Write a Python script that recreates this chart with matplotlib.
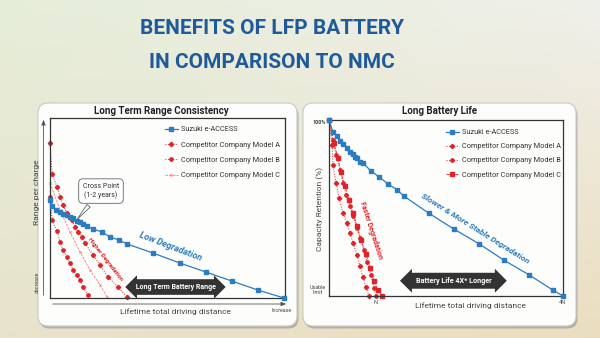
import matplotlib.pyplot as plt
import numpy as np
from matplotlib.patches import FancyBboxPatch

plt.rcParams['font.family'] = ['Roboto', 'DejaVu Sans']

# ---- left chart: range per charge vs lifetime distance (0-100 scale)
left_suzuki_x = [0, 0.9, 2.6, 4.3, 5.5, 7.2, 8.5, 9.8, 11.5, 12.8, 14.0, 15.7, 18.3, 22.1,
                 25.5, 29.4, 32.8, 43.8, 55.3, 66.4, 77.4, 88.5, 99.6]
left_suzuki_y = [54.4, 51.1, 48.9, 47.8, 46.7, 46.1, 45.0, 44.4, 42.8, 42.2, 41.1, 40.0, 38.3,
                 36.7, 33.9, 32.2, 30.0, 25.0, 19.4, 14.4, 9.4, 4.4, 0]
left_a_x = [0, 0.9, 3.0, 4.3, 5.5, 7.2, 9.4, 10.6, 11.9, 13.6, 14.9, 18.3, 21.3, 24.7, 28.9, 32.8]
left_a_y = [86.1, 68.9, 61.7, 56.1, 51.7, 47.2, 43.3, 39.4, 36.7, 33.9, 30.6, 23.9, 18.3, 11.7, 6.1, 0.6]
left_b_x = [0, 0.9, 3.0, 4.3, 5.5, 7.2, 8.5, 9.8, 11.5, 12.8, 14.0, 16.2]
left_b_y = [56.1, 43.3, 37.2, 31.1, 26.7, 22.8, 19.4, 15.6, 12.8, 10.0, 6.1, 1.7]
left_c_x = [0, 4.3, 8.5, 12.8, 17.0, 21.3, 24.3]
left_c_y = [63.9, 48.9, 36.7, 25.6, 15.6, 7.2, 0.6]

# ---- right chart: capacity retention (%) vs lifetime distance (4N = 100)
right_suzuki_x = [0, 1.7, 3.4, 4.7, 6.0, 7.7, 9.0, 10.3, 11.1, 12.0, 13.2, 14.5, 17.9, 21.4,
                  25.2, 29.1, 32.1, 42.7, 53.4, 64.1, 74.8, 85.5, 95.7, 100]
right_suzuki_y = [100, 97.9, 97.3, 96.4, 95.9, 95.2, 94.5, 94.2, 93.7, 93.5, 92.8, 92.7, 91.3,
                  90.3, 89.1, 88.1, 87.0, 84.1, 81.4, 78.9, 76.1, 73.6, 71.0, 70.0]
right_a_x = [0, 1.3, 1.7, 3.0, 4.3, 6.0, 7.7, 9.0, 10.3, 12.0, 13.2, 14.5, 15.8, 17.1]
right_a_y = [100, 95.7, 92.3, 89.3, 86.7, 84.1, 82.4, 80.7, 79.0, 77.0, 75.1, 73.2, 71.5, 70.0]
right_b_x = [0, 1.7, 3.0, 4.7, 6.0, 7.3, 9.0, 10.3, 12.0, 13.2, 15.0, 16.2, 17.9, 19.2, 20.1]
right_b_y = [100, 96.6, 94.0, 91.5, 89.3, 87.2, 85.3, 83.6, 81.6, 79.9, 77.8, 75.8, 73.6, 71.4, 70.0]
right_c_x = [0, 2.1, 3.8, 5.1, 6.8, 8.5, 10.3, 12.0, 13.7, 15.8, 17.5, 19.2, 20.9, 22.6]
right_c_y = [100, 96.1, 93.5, 91.1, 88.7, 86.4, 84.1, 81.9, 79.5, 77.2, 74.8, 72.6, 71.0, 70.0]

labels = ['Suzuki e-ACCESS', 'Competitor Company Model A',
          'Competitor Company Model B', 'Competitor Company Model C']

BLUE = '#2b7cc0'
RED = '#e0232b'
TITLE = '#1f5b9a'

fig = plt.figure(figsize=(6, 3.38), dpi=100)

# background in pixel coordinates
bg = fig.add_axes([0, 0, 1, 1])
bg.set_xlim(0, 600)
bg.set_ylim(338, 0)
bg.axis('off')
v, h = np.mgrid[0:1:120j, 0:1:200j]
tl = np.array([0.90, 0.93, 0.85])
tr = np.array([0.94, 0.94, 0.92])
bl = np.array([0.91, 0.89, 0.80])
br = np.array([0.92, 0.87, 0.75])
grad = ((1 - v)[..., None] * ((1 - h)[..., None] * tl + h[..., None] * tr)
        + v[..., None] * ((1 - h)[..., None] * bl + h[..., None] * br))
bg.imshow(grad, extent=(0, 600, 338, 0), aspect='auto', zorder=0)

for x0, w in [(38, 259), (303, 273)]:
    bg.add_patch(FancyBboxPatch((x0 + 1.5, 105.5), w, 223, boxstyle='round,pad=0,rounding_size=10',
                                fc='#8f8f8f', ec='none', alpha=0.6, zorder=1))
    bg.add_patch(FancyBboxPatch((x0, 103), w, 223, boxstyle='round,pad=0,rounding_size=10',
                                fc='#fdfdfb', ec='#c9c9c9', lw=0.8, zorder=2))

title_font = ['Liberation Sans Narrow', 'Roboto', 'DejaVu Sans']
bg.text(272, 29, 'BENEFITS OF LFP BATTERY', ha='center', va='center', color=TITLE,
        fontsize=15, fontweight='bold', family=title_font)
bg.text(272, 63, 'IN COMPARISON TO NMC', ha='center', va='center', color=TITLE,
        fontsize=15, fontweight='bold', family=title_font)

bg.text(161, 111, 'Long Term Range Consistency', ha='center', va='center', fontsize=7,
        fontweight='bold', color='#222')
bg.text(440, 111, 'Long Battery Life', ha='center', va='center', fontsize=7,
        fontweight='bold', color='#222')

# left outside labels
bg.text(37, 192, 'Range per charge', rotation=90, ha='center', va='center', fontsize=6, color='#444')
bg.text(37, 282, 'decrease', rotation=90, ha='center', va='center', fontsize=3.8, color='#444')
bg.annotate('', xy=(43.5, 117), xytext=(43.5, 298),
            arrowprops=dict(arrowstyle='-|>,head_length=0.3,head_width=0.12', lw=0.6, color='#555'))
bg.annotate('', xy=(289, 304), xytext=(50, 304),
            arrowprops=dict(arrowstyle='-|>,head_length=0.3,head_width=0.12', lw=0.6, color='#555'))
bg.text(282, 311, 'Increase', ha='center', va='center', fontsize=3.8, color='#444')
bg.text(175, 312, 'Lifetime total driving distance', ha='center', va='center', fontsize=6, color='#444')

# right outside labels
bg.text(319, 122, '100%', ha='center', va='center', fontsize=4, fontweight='bold', color='#444')
bg.text(320, 209, 'Capacity Retention (%)', rotation=90, ha='center', va='center', fontsize=6, color='#444')
bg.text(318, 290, 'Usable\nlimit', ha='center', va='center', fontsize=3.8, color='#444', linespacing=0.9)
bg.text(376, 302, 'N', ha='center', va='center', fontsize=4, color='#444')
bg.text(562, 302, '4N', ha='center', va='center', fontsize=4, color='#444')
bg.text(470, 306, 'Lifetime total driving distance', ha='center', va='center', fontsize=6, color='#444')

# ---- left chart
ax1 = fig.add_axes([50 / 600, 1 - 298 / 338, 235 / 600, 180 / 338])
ax1.set_facecolor('none')
ax1.plot(left_suzuki_x, left_suzuki_y, color=BLUE, lw=0.9, marker='s', ms=3, clip_on=False,
         zorder=4, label=labels[0])
ax1.plot(left_a_x, left_a_y, color=RED, lw=0.7, ls=':', marker='D', ms=2.2, clip_on=False,
         label=labels[1])
ax1.plot(left_b_x, left_b_y, color=RED, lw=0.7, ls=':', marker='o', ms=2.4, clip_on=False,
         label=labels[2])
ax1.plot(left_c_x, left_c_y, color='#e86a6a', lw=0.5, ls='--', marker='x', ms=1.5, mew=0.5,
         clip_on=False, label=labels[3])
ax1.set_xlim(0, 100)
ax1.set_ylim(0, 100)
ax1.set_xticks([])
ax1.set_yticks([])
for s in ax1.spines.values():
    s.set_color('#333')
    s.set_linewidth(0.9)
ax1.legend(loc='upper left', bbox_to_anchor=(165 / 600, 1 - 126 / 338), bbox_transform=fig.transFigure,
           frameon=False, fontsize=5.3, borderpad=0, borderaxespad=0, handlelength=1.7,
           handletextpad=0.5, labelspacing=1.12, labelcolor='#333')

ax1.annotate('Cross Point\n(1-2 years)', xy=(10.8, 42.5), xytext=(21.7, 59.4), ha='center', va='center',
             fontsize=5, color='#333',
             bbox=dict(boxstyle='round,pad=0.6', fc='white', ec='#666', lw=0.6),
             arrowprops=dict(arrowstyle='wedge,tail_width=0.6', fc='white', ec='#666', lw=0.6))
ax1.text(23.4, 21.7, 'Higher Degradation', rotation=-52, rotation_mode='anchor', ha='center', va='center',
         fontsize=4.3, color=RED, fontweight='bold')
ax1.text(51.1, 28.6, 'Low Degradation', rotation=-21, rotation_mode='anchor', ha='center', va='center',
         fontsize=6.5, color=BLUE, fontweight='bold', style='italic')
ax1.text(53.6, 6.1, ' Long Term Battery Range ', ha='center', va='center', fontsize=5,
         color='white', fontweight='bold',
         bbox=dict(boxstyle='darrow,pad=0.55', fc='#333333', ec='none'))

# ---- right chart
ax2 = fig.add_axes([329 / 600, 1 - 296 / 338, 234 / 600, 176 / 338])
ax2.set_facecolor('none')
ax2.plot(right_suzuki_x, right_suzuki_y, color=BLUE, lw=0.9, marker='s', ms=3, clip_on=False,
         zorder=4, label=labels[0])
ax2.plot(right_a_x, right_a_y, color=RED, lw=0.7, ls=':', marker='D', ms=2.2, clip_on=False,
         label=labels[1])
ax2.plot(right_b_x, right_b_y, color=RED, lw=0.7, ls=':', marker='o', ms=2.4, clip_on=False,
         label=labels[2])
ax2.plot(right_c_x, right_c_y, color=RED, lw=0.6, ls='--', marker='s', ms=2.2, clip_on=False,
         label=labels[3])
ax2.set_xlim(0, 100)
ax2.set_ylim(70, 100)
ax2.set_xticks([])
ax2.set_yticks([])
for s in ax2.spines.values():
    s.set_color('#333')
    s.set_linewidth(0.9)
ax2.legend(loc='upper left', bbox_to_anchor=(446 / 600, 1 - 129 / 338), bbox_transform=fig.transFigure,
           frameon=False, fontsize=5.3, borderpad=0, borderaxespad=0, handlelength=1.7,
           handletextpad=0.5, labelspacing=0.95, labelcolor='#333')

ax2.text(17.9, 81.2, 'Faster Degradation', rotation=-72, rotation_mode='anchor', ha='center', va='center',
         fontsize=5, color=RED, fontweight='bold')
ax2.text(62.4, 81.6, 'Slower & More Stable Degradation', rotation=-32, rotation_mode='anchor',
         ha='center', va='center', fontsize=6, color=BLUE, fontweight='bold', style='italic')
ax2.text(53.4, 72.6, '    Battery Life 4X* Longer    ', ha='center', va='center', fontsize=5.2,
         color='white', fontweight='bold',
         bbox=dict(boxstyle='darrow,pad=0.55', fc='#333333', ec='none'))

fig.savefig('out.png', dpi=100)
